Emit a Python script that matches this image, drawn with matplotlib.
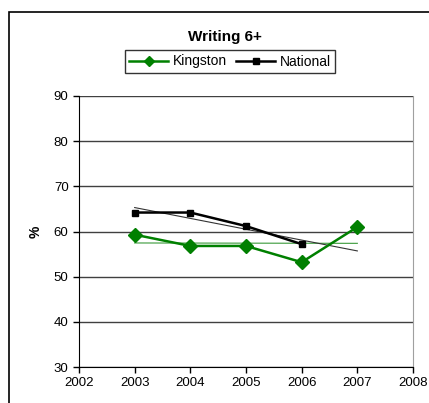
import matplotlib
matplotlib.use('Agg')
import matplotlib.pyplot as plt
from matplotlib.patches import Rectangle
import numpy as np

plt.rcParams['font.family'] = ['Liberation Sans', 'DejaVu Sans']

# Data
years_kingston = [2003, 2004, 2005, 2006, 2007]
kingston = [59.3, 56.8, 56.8, 53.2, 61.0]
years_national = [2003, 2004, 2005, 2006]
national = [64.2, 64.2, 61.2, 57.2]
x_ticks = [2002, 2003, 2004, 2005, 2006, 2007, 2008]
y_ticks = [30, 40, 50, 60, 70, 80, 90]

W, H = 429, 403
fig = plt.figure(figsize=(W / 100, H / 100), dpi=100)
fig.patch.set_facecolor('white')

# Outer chart border (runs past right and bottom edges)
fig.patches.append(Rectangle((9 / W, -0.1), 1.2, (H - 12) / H + 0.1,
                             transform=fig.transFigure, fill=False,
                             edgecolor='black', linewidth=1.2))

# Plot area
left, right, top, bottom = 79, 413, 96, 367
ax = fig.add_axes([left / W, 1 - bottom / H, (right - left) / W, (bottom - top) / H])

ax.set_xlim(2002, 2008)
ax.set_ylim(30, 90)
ax.set_xticks(x_ticks)
ax.set_yticks(y_ticks)
ax.tick_params(labelsize=9.5, length=4, direction='out', width=1)
ax.yaxis.grid(True, color='#404040', linewidth=1)
ax.set_axisbelow(True)

ax.spines['top'].set_visible(False)
ax.spines['right'].set_color('#a0a0a0')
ax.spines['left'].set_color('black')
ax.spines['bottom'].set_color('black')

# Series
k_line, = ax.plot(years_kingston, kingston, color='#008000', linewidth=1.8,
                  marker='D', markersize=7, label='Kingston', zorder=4)
n_line, = ax.plot(years_national, national, color='black', linewidth=1.8,
                  marker='s', markersize=5, label='National', zorder=4)

# Linear trendlines
kc = np.polyfit(years_kingston, kingston, 1)
kx = np.array([years_kingston[0], years_kingston[-1]])
ax.plot(kx, np.polyval(kc, kx), color='#3a9a3a', linewidth=0.8, zorder=3)

nc = np.polyfit(years_national, national, 1)
nx = np.array([years_national[0], years_national[-1] + 1])
ax.plot(nx, np.polyval(nc, nx), color='#333333', linewidth=0.8, zorder=3)

ax.set_ylabel('%', fontsize=10, fontweight='bold', labelpad=8)

fig.text(225 / W, 1 - 37 / H, 'Writing 6+', ha='center', va='center',
         fontsize=11, fontweight='bold')

leg = fig.legend(handles=[k_line, n_line], loc='center',
                 bbox_to_anchor=(230 / W, 1 - 61.5 / H), ncol=2,
                 fontsize=10, frameon=True, fancybox=False,
                 handlelength=2.8, handletextpad=0.3, columnspacing=0.7,
                 borderpad=0.3, markerscale=0.75)
leg.get_frame().set_edgecolor('black')
leg.get_frame().set_linewidth(1)

fig.savefig('out.png', dpi=100)
